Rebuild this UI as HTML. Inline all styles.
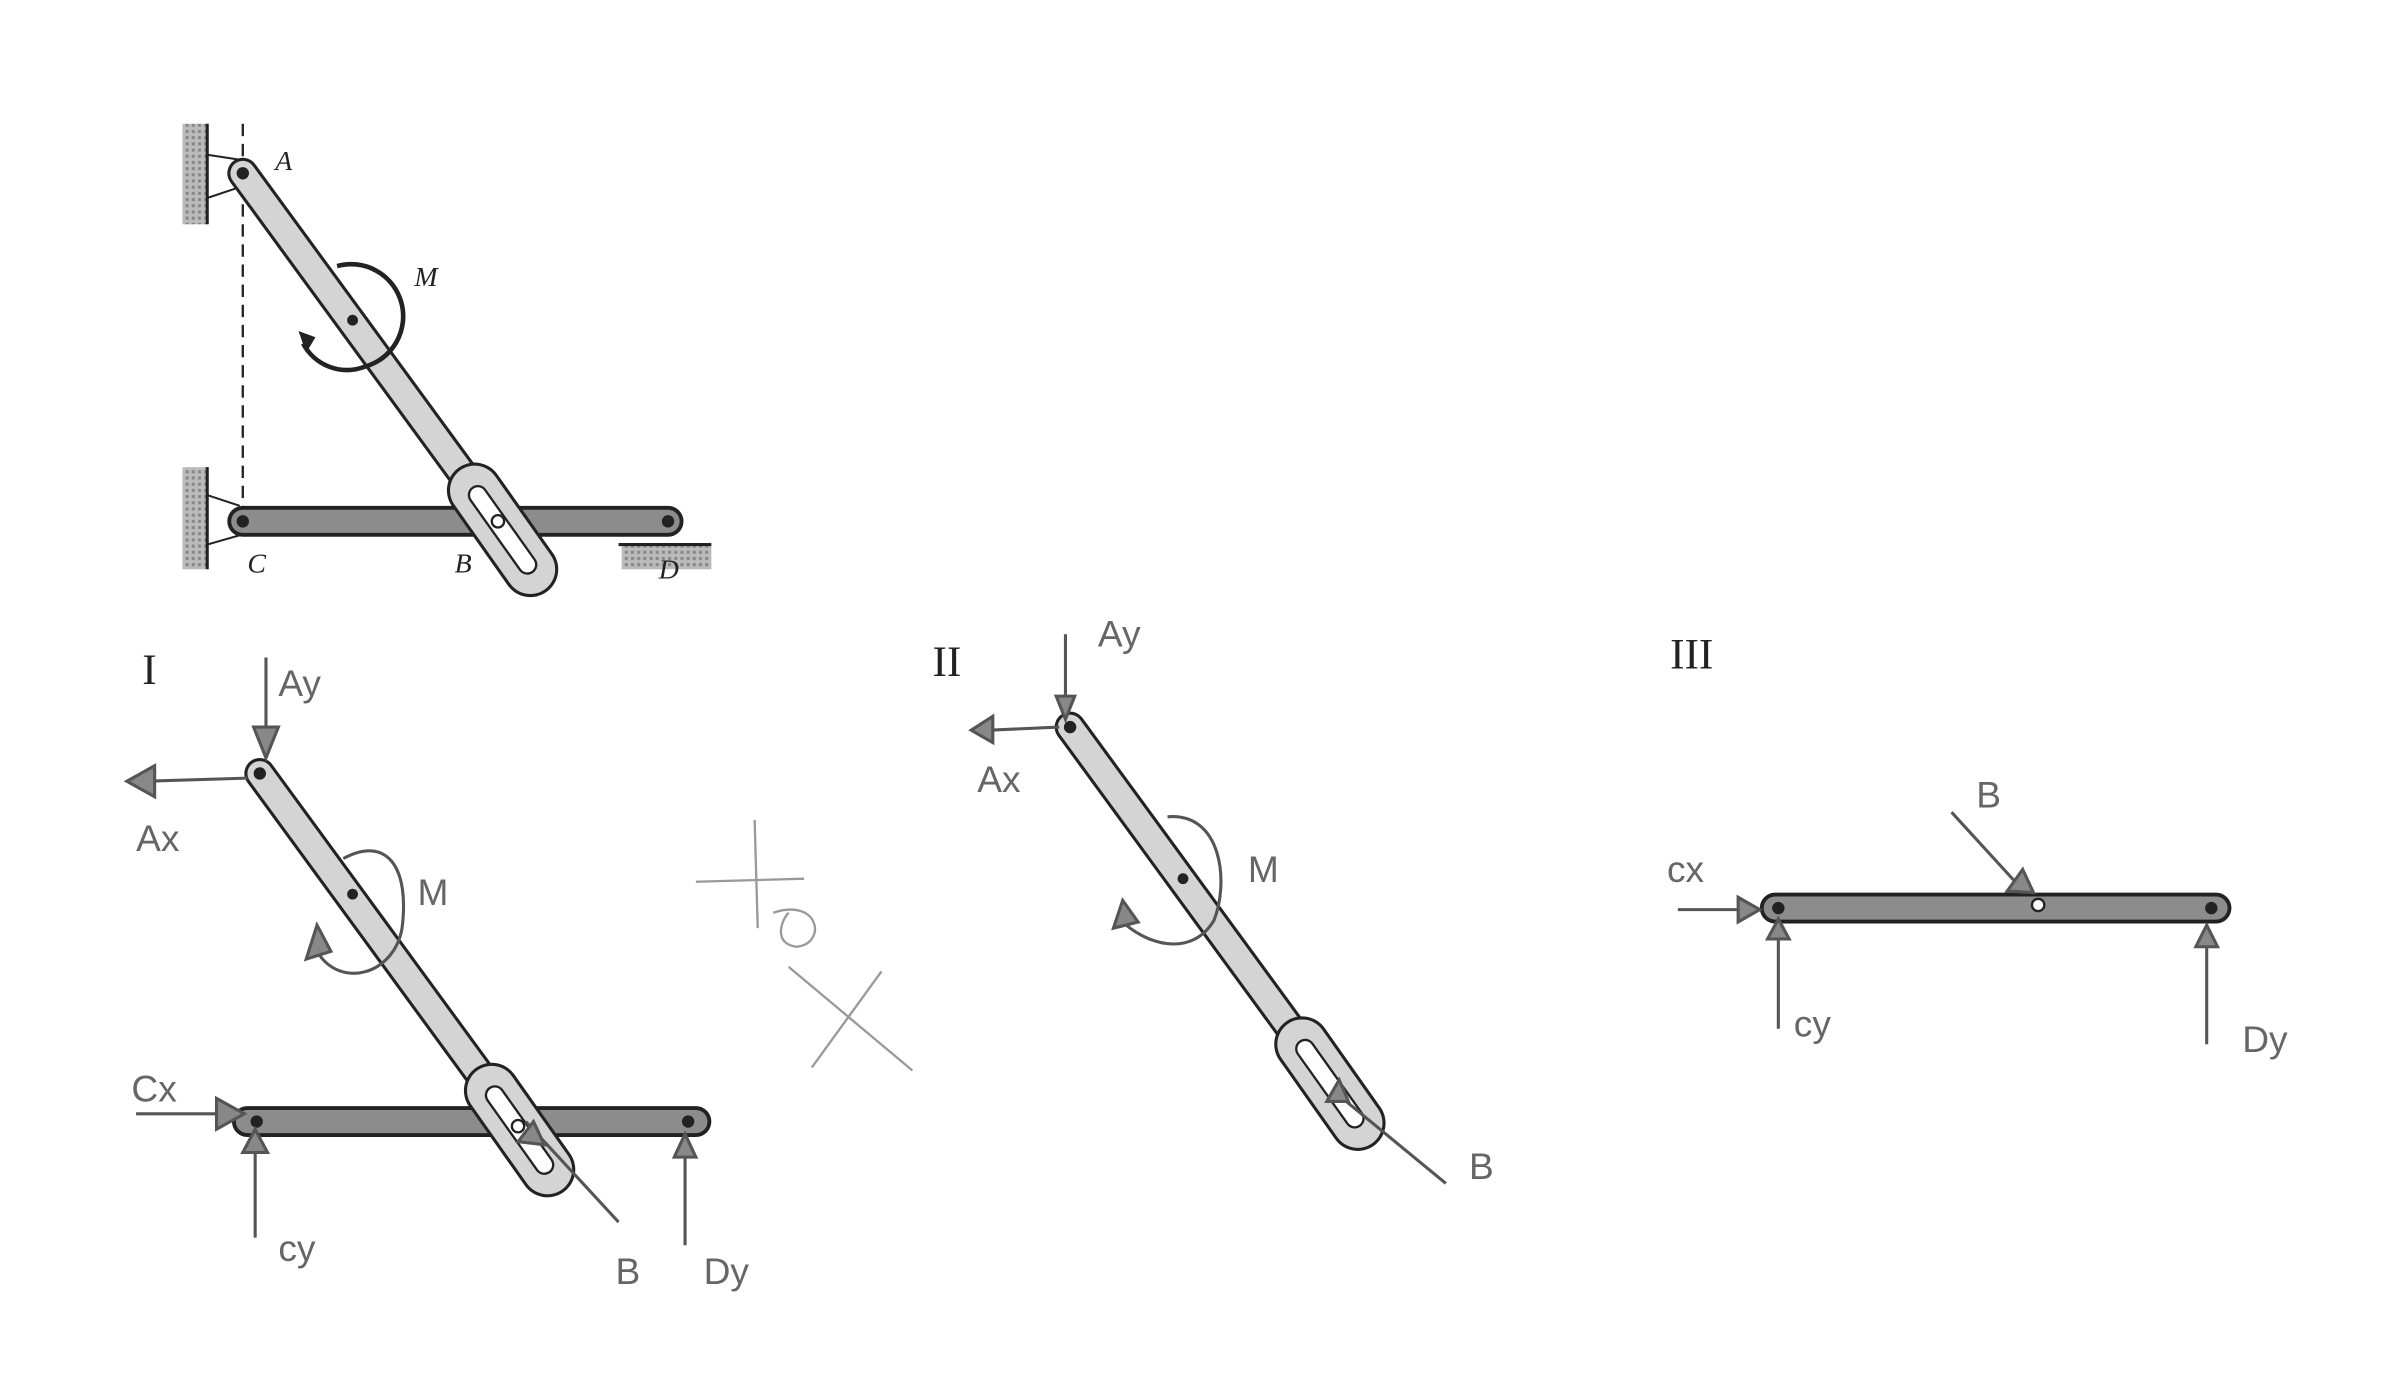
<!DOCTYPE html>
<html><head><meta charset="utf-8"><style>
html,body{margin:0;padding:0;background:#fff;width:2400px;height:1400px;overflow:hidden}
svg{display:block}
.it{font-family:"Liberation Serif",serif;font-style:italic;font-size:18px;fill:#222}
.rm{font-family:"Liberation Serif",serif;font-size:28px;fill:#222}
.hw{font-family:"Liberation Sans",sans-serif;fill:#666;font-size:24px}
</style></head><body>
<svg width="2400" height="1400" viewBox="0 0 1552 905" preserveAspectRatio="none" xmlns="http://www.w3.org/2000/svg">
<defs>
<pattern id="hatch" width="4" height="4" patternUnits="userSpaceOnUse"><rect width="4" height="4" fill="#bbb"/><rect width="2" height="2" fill="#888"/></pattern>
<g id="diag">
 <line x1="0" y1="0" x2="150" y2="205" stroke="#222" stroke-width="20" stroke-linecap="round"/>
 <line x1="0" y1="0" x2="150" y2="205" stroke="#d4d4d4" stroke-width="16" stroke-linecap="round"/>
 <line x1="150" y1="205" x2="186" y2="256" stroke="#222" stroke-width="36" stroke-linecap="round"/>
 <line x1="150" y1="205" x2="186" y2="256" stroke="#d4d4d4" stroke-width="32" stroke-linecap="round"/>
 <line x1="152" y1="208" x2="184" y2="253" stroke="#222" stroke-width="13" stroke-linecap="round"/>
 <line x1="152" y1="208" x2="184" y2="253" stroke="#fff" stroke-width="10" stroke-linecap="round"/>
 <circle cx="0" cy="0" r="4" fill="#222"/>
</g>
</defs>
<rect width="1552" height="905" fill="#fff"/>

<!-- TOP FIGURE -->
<rect x="118" y="80" width="16" height="65" fill="url(#hatch)"/><line x1="134" y1="80" x2="134" y2="145" stroke="#222" stroke-width="2"/>
<rect x="118" y="302" width="16" height="66" fill="url(#hatch)"/><line x1="134" y1="302" x2="134" y2="368" stroke="#222" stroke-width="2"/>
<line x1="157" y1="80" x2="157" y2="330" stroke="#222" stroke-width="1.5" stroke-dasharray="8,5"/>
<path d="M134 100 L160 104 M134 128 L152 122 M134 320 L155 327 M134 352 L155 346" stroke="#222" stroke-width="1.3" fill="none"/>
<line x1="157" y1="337" x2="432" y2="337" stroke="#222" stroke-width="20" stroke-linecap="round"/>
<line x1="157" y1="337" x2="432" y2="337" stroke="#8c8c8c" stroke-width="15" stroke-linecap="round"/>
<circle cx="157" cy="337" r="4" fill="#222"/><circle cx="432" cy="337" r="4" fill="#222"/>
<rect x="402" y="352" width="58" height="16" fill="url(#hatch)"/><line x1="400" y1="352" x2="460" y2="352" stroke="#222" stroke-width="2"/>
<use href="#diag" x="157" y="112"/>
<circle cx="322" cy="337" r="4" fill="#fff" stroke="#222" stroke-width="1.5"/>
<path d="M218 172 A32 32 0 0 1 236 237 A32 32 0 0 1 196 222" stroke="#222" stroke-width="3" fill="none"/>
<path d="M193 214 L198 228 L204 218 Z" fill="#222"/>
<circle cx="228" cy="207" r="3.5" fill="#222"/>
<text class="it" x="178" y="110">A</text><text class="it" x="268" y="185">M</text>
<text class="it" x="160" y="370">C</text><text class="it" x="294" y="370">B</text><text class="it" x="426" y="374">D</text>

<!-- FIGURE I -->
<text class="rm" x="92" y="442">I</text>
<line x1="160" y1="725" x2="450" y2="725" stroke="#222" stroke-width="20" stroke-linecap="round"/>
<line x1="160" y1="725" x2="450" y2="725" stroke="#8c8c8c" stroke-width="15" stroke-linecap="round"/>
<circle cx="166" cy="725" r="4" fill="#222"/><circle cx="445" cy="725" r="4" fill="#222"/>
<use href="#diag" x="168" y="500"/>
<circle cx="335" cy="728" r="4" fill="#fff" stroke="#222" stroke-width="1.5"/>
<circle cx="228" cy="578" r="3.5" fill="#222"/>
<g stroke="#555" stroke-width="2" fill="none">
 <line x1="172" y1="425" x2="172" y2="485"/>
 <line x1="160" y1="503" x2="95" y2="505"/>
 <path d="M222 555 C250 540 265 560 260 600 C255 630 220 640 205 615"/>
 <line x1="88" y1="720" x2="150" y2="720"/>
 <line x1="165" y1="745" x2="165" y2="800"/>
 <line x1="443" y1="745" x2="443" y2="805"/>
 <line x1="340" y1="725" x2="400" y2="790"/>
</g>
<g stroke="#555" stroke-width="2" fill="#888">
 <path d="M164 470 L172 490 L180 470 Z"/><path d="M100 495 L82 505 L100 515 Z"/><path d="M198 620 L205 598 L214 615 Z"/>
 <path d="M140 710 L158 720 L140 730 Z"/><path d="M157 745 L165 730 L173 745 Z"/><path d="M436 748 L443 733 L450 748 Z"/><path d="M335 738 L345 725 L352 740 Z"/>
</g>
<text class="hw" x="180" y="450">Ay</text><text class="hw" x="88" y="550">Ax</text>
<text class="hw" x="270" y="585" font-size="28">M</text><text class="hw" x="85" y="712">Cx</text>
<text class="hw" x="180" y="815">cy</text><text class="hw" x="398" y="830">B</text><text class="hw" x="455" y="830">Dy</text>
<g stroke="#999" stroke-width="1.5" fill="none"><path d="M450 570 L520 568 M488 530 L490 600 M500 590 C530 580 535 610 515 612 C500 610 505 595 510 590 M510 625 L590 692 M570 628 L525 690"/></g>

<!-- FIGURE II -->
<text class="rm" x="603" y="437">II</text>
<use href="#diag" x="692" y="470"/>
<circle cx="765" cy="568" r="3.5" fill="#222"/>
<g stroke="#555" stroke-width="2" fill="none">
 <line x1="689" y1="410" x2="689" y2="460"/>
 <line x1="685" y1="470" x2="640" y2="472"/>
 <path d="M755 528 C790 525 795 570 785 595 C770 620 740 610 725 595"/>
 <line x1="862" y1="705" x2="935" y2="765"/>
</g>
<g stroke="#555" stroke-width="2" fill="#888">
 <path d="M683 450 L689 465 L695 450 Z"/><path d="M642 463 L628 472 L642 480 Z"/><path d="M720 600 L726 582 L736 596 Z"/><path d="M858 712 L866 698 L872 712 Z"/>
</g>
<text class="hw" x="710" y="418" font-size="18">Ay</text><text class="hw" x="632" y="512" font-size="16">Ax</text>
<text class="hw" x="807" y="570" font-size="30">M</text><text class="hw" x="950" y="762">B</text>

<!-- FIGURE III -->
<text class="rm" x="1080" y="432">III</text>
<line x1="1148" y1="587" x2="1433" y2="587" stroke="#222" stroke-width="20" stroke-linecap="round"/>
<line x1="1148" y1="587" x2="1433" y2="587" stroke="#8c8c8c" stroke-width="15" stroke-linecap="round"/>
<circle cx="1150" cy="587" r="4" fill="#222"/><circle cx="1430" cy="587" r="4" fill="#222"/>
<circle cx="1318" cy="585" r="4" fill="#fff" stroke="#222" stroke-width="1.5"/>
<g stroke="#555" stroke-width="2" fill="none">
 <line x1="1085" y1="588" x2="1130" y2="588"/>
 <line x1="1150" y1="605" x2="1150" y2="665"/>
 <line x1="1427" y1="610" x2="1427" y2="675"/>
 <line x1="1262" y1="525" x2="1305" y2="572"/>
</g>
<g stroke="#555" stroke-width="2" fill="#888">
 <path d="M1124 580 L1138 588 L1124 596 Z"/><path d="M1143 607 L1150 594 L1157 607 Z"/><path d="M1420 612 L1427 598 L1434 612 Z"/><path d="M1298 576 L1308 562 L1315 577 Z"/>
</g>
<text class="hw" x="1078" y="570" font-size="16">cx</text><text class="hw" x="1160" y="670">cy</text>
<text class="hw" x="1278" y="522">B</text><text class="hw" x="1450" y="680">Dy</text>
</svg>
</body></html>
